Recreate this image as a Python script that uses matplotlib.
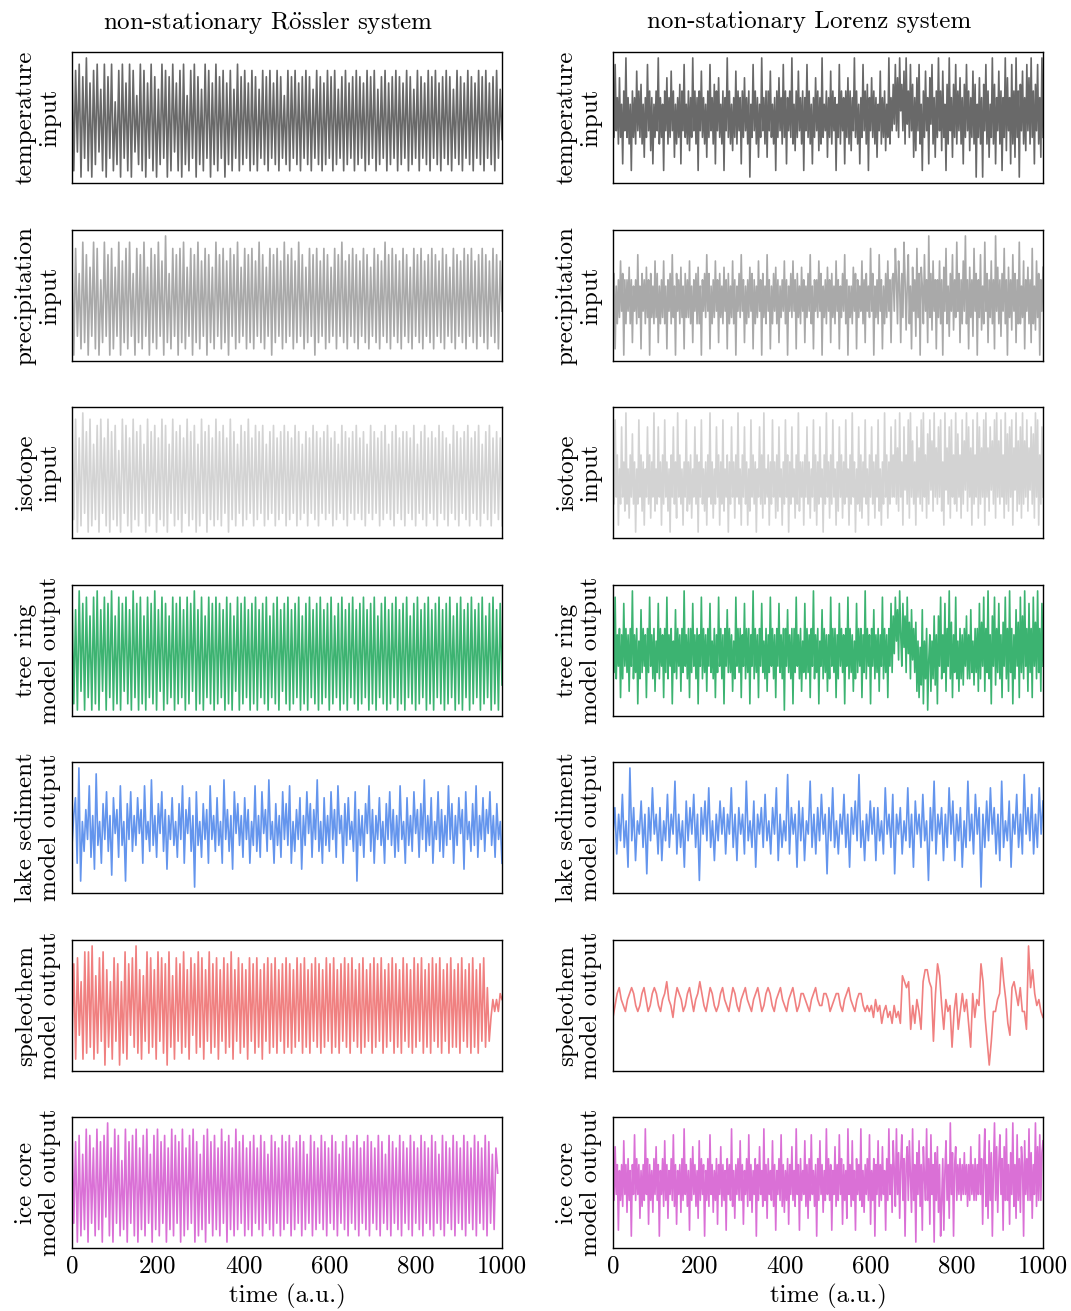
import numpy as np
import matplotlib
matplotlib.use("Agg")
import matplotlib.pyplot as plt

plt.rcParams['font.family'] = ['cmr10', 'DejaVu Serif']
plt.rcParams['mathtext.fontset'] = 'cm'
plt.rcParams['axes.unicode_minus'] = False

col_titles = [r'non-stationary R$\ddot{\mathrm{o}}$ssler system', 'non-stationary Lorenz system']
row_labels = ['temperature\ninput', 'precipitation\ninput', 'isotope\ninput',
              'tree ring\nmodel output', 'lake sediment\nmodel output',
              'speleothem\nmodel output', 'ice core\nmodel output']
row_colors = ['dimgray', 'darkgray', 'lightgray', 'mediumseagreen',
              'cornflowerblue', 'lightcoral', 'orchid']
time_ticks = [0, 200, 400, 600, 800, 1000]

# --- Rössler column (arbitrary units) ---
ross_temp = [
    9, -8, 8, -5, 9, -9, 7, -6, 10, -8, 6, -9, 8, -7, 9, -5, 5, -8, 9, -9,
    7, -6, 9, -8, 3, -7, 8, -9, 9, -6, 6, -8, 9, -9, 8, -5, 4, -7, 9, -8,
    8, -9, 6, -6, 9, -8, 7, -9, 5, -7, 9, -6, 8, -9, 7, -8, 9, -5, 6, -8,
    8, -9, 9, -7, 4, -8, 8, -6, 9, -9, 7, -7, 5, -8, 9, -6, 8, -9, 6, -7,
    9, -8, 7, -6, 8, -9, 6, -7, 8, -8, 5, -6, 9, -8, 7, -7, 8, -6, 6, -8,
    8, -7, 7, -8, 5, -6, 8, -7, 7, -8, 8, -6, 6, -7, 8, -8, 7, -6, 4, -7,
    8, -8, 7, -6, 8, -7, 6, -8, 7, -6, 8, -7, 7, -8, 5, -6, 8, -7, 7, -8,
    6, -7, 8, -6, 7, -8, 8, -7, 5, -6, 7, -8, 8, -7, 6, -6, 7, -8, 8, -7,
    7, -6, 6, -8, 8, -7, 7, -6, 8, -8, 5, -7, 7, -6, 8, -8, 6, -7, 7, -6,
    8, -8, 7, -7, 6, -6, 8, -8, 7, -7, 5, -6, 8, -8, 7, -6, 6, -7, 8, -8,
    7, -6, 8, -7, 6, -8, 7, -6, 8, -7, 7, -8, 5, -6, 8, -7, 7, -8, 6, -6,
    8, -7, 7, -8, 6, -6, 8, -7, 7, -8, 8, -6, 6, -7, 7, -8, 8, -6, 5, -3,
]
ross_precip = [
    6, -9, 8, -6, 4, -8, 9, -7, 7, -9, 5, -6, 9, -8, 8, -9, 3, -7, 9, -6,
    7, -9, 8, -8, 5, -6, 9, -9, 6, -7, 8, -8, 9, -6, 4, -9, 8, -7, 7, -8,
    9, -6, 5, -9, 8, -7, 7, -8, 9, -6, 6, -9, 10, -7, 4, -8, 8, -6, 7, -9,
    8, -7, 9, -8, 5, -6, 8, -9, 7, -7, 9, -8, 6, -6, 8, -9, 7, -7, 5, -8,
    9, -6, 7, -8, 8, -7, 6, -9, 8, -6, 7, -8, 9, -7, 5, -6, 8, -8, 7, -7,
    8, -8, 6, -6, 9, -7, 7, -8, 5, -6, 8, -9, 7, -7, 8, -6, 6, -8, 9, -7,
    7, -6, 8, -8, 6, -7, 9, -6, 7, -8, 5, -7, 8, -6, 7, -9, 8, -7, 6, -6,
    8, -8, 7, -7, 5, -6, 8, -8, 7, -6, 9, -7, 6, -8, 7, -6, 8, -7, 7, -8,
    6, -6, 8, -7, 7, -8, 5, -6, 8, -7, 7, -8, 6, -6, 9, -7, 7, -8, 8, -6,
    7, -7, 6, -8, 8, -6, 7, -7, 5, -8, 8, -6, 7, -7, 8, -8, 6, -6, 7, -7,
    8, -8, 7, -6, 6, -7, 8, -8, 7, -6, 5, -7, 8, -8, 7, -6, 6, -7, 8, -8,
    7, -6, 8, -7, 6, -8, 7, -6, 8, -7, 7, -8, 6, -6, 8, -7, 7, -8, 6, -2,
]
ross_iso = [
    8, -7, 9, -9, 6, -8, 10, -6, 7, -9, 9, -8, 5, -7, 8, -9, 9, -6, 6, -8,
    9, -9, 7, -7, 8, -8, 4, -9, 9, -6, 8, -8, 6, -9, 9, -7, 7, -8, 8, -6,
    5, -9, 9, -8, 7, -6, 8, -9, 6, -7, 9, -8, 8, -9, 5, -6, 9, -8, 7, -7,
    8, -9, 6, -6, 9, -8, 7, -7, 8, -9, 5, -8, 9, -6, 7, -9, 8, -7, 6, -8,
    9, -7, 7, -8, 8, -6, 6, -9, 9, -7, 7, -8, 5, -6, 8, -8, 7, -7, 9, -6,
    6, -8, 8, -7, 7, -6, 8, -8, 5, -7, 7, -6, 8, -8, 6, -7, 7, -6, 8, -8,
    7, -7, 6, -6, 8, -8, 7, -7, 5, -6, 7, -8, 6, -6, 8, -7, 7, -8, 6, -6,
    7, -7, 8, -6, 6, -8, 7, -7, 5, -6, 8, -7, 7, -8, 6, -6, 7, -7, 8, -6,
    6, -7, 7, -8, 5, -6, 8, -7, 7, -6, 6, -8, 7, -7, 8, -6, 5, -7, 7, -8,
    8, -6, 6, -7, 7, -8, 7, -6, 6, -7, 8, -8, 5, -6, 7, -7, 8, -8, 6, -6,
    7, -7, 6, -8, 8, -6, 7, -7, 6, -8, 5, -6, 8, -7, 7, -8, 6, -6, 7, -7,
    8, -8, 6, -6, 7, -7, 8, -8, 5, -6, 7, -7, 8, -8, 6, -6, 7, -7, 6, -8,
]
ross_tree = [
    9, -8, 7, -9, 10, -6, 8, -9, 9, -7, 6, -9, 9, -8, 10, -9, 7, -6, 9, -9,
    8, -7, 10, -9, 6, -8, 9, -9, 8, -6, 9, -8, 7, -9, 10, -7, 8, -9, 9, -8,
    6, -9, 9, -7, 8, -8, 10, -9, 7, -6, 9, -9, 8, -8, 6, -7, 9, -9, 8, -8,
    9, -7, 7, -9, 9, -8, 8, -6, 10, -9, 7, -8, 9, -9, 6, -7, 9, -8, 8, -9,
    9, -8, 8, -7, 7, -9, 9, -8, 8, -9, 6, -6, 9, -9, 8, -8, 9, -7, 7, -9,
    8, -8, 9, -9, 7, -7, 8, -8, 9, -9, 6, -7, 8, -8, 9, -9, 7, -6, 8, -8,
    9, -9, 7, -8, 8, -7, 9, -9, 6, -8, 8, -9, 9, -7, 7, -8, 8, -9, 9, -8,
    7, -7, 8, -9, 9, -8, 6, -7, 8, -9, 9, -8, 7, -9, 8, -7, 9, -8, 7, -9,
    8, -8, 9, -7, 7, -9, 8, -8, 9, -9, 6, -7, 8, -8, 9, -9, 7, -8, 8, -7,
    9, -9, 7, -8, 8, -9, 9, -7, 6, -8, 8, -9, 9, -8, 7, -7, 8, -9, 9, -8,
    7, -9, 8, -7, 9, -8, 7, -9, 8, -8, 9, -7, 6, -9, 8, -8, 9, -9, 7, -7,
    8, -9, 9, -8, 7, -7, 8, -9, 9, -8, 6, -7, 8, -9, 9, -8, 7, -9, 8, -5,
]
ross_lake = [
    -3, 2, 5, -6, 10, -9, 1, -4, 3, -2, 7, -5, 2, -7, 9, -3, 1, -6, 4, -2,
    6, -4, 2, -8, 5, -1, 3, -5, 7, -3, 1, -9, 4, -2, 6, -4, 2, -3, 5, -1,
    3, -6, 7, -2, 1, -4, 8, -3, 2, -5, 4, -1, 6, -4, 3, -7, 2, -2, 5, -3,
    1, -5, 4, -2, 7, -6, 3, -1, 5, -4, 2, -10, 6, -3, 1, -5, 4, -2, 3, -6,
    7, -2, 2, -4, 5, -3, 1, -6, 8, -2, 3, -4, 2, -7, 6, -1, 4, -3, 2, -5,
    5, -2, 3, -6, 1, -3, 7, -4, 2, -5, 6, -1, 3, -4, 8, -2, 1, -6, 4, -3,
    2, -5, 6, -2, 4, -3, 7, -6, 1, -4, 3, -2, 5, -7, 2, -3, 6, -1, 4, -5,
    3, -2, 8, -4, 1, -6, 5, -3, 2, -4, 6, -2, 3, -5, 7, -1, 2, -6, 4, -3,
    5, -2, 1, -4, 6, -9, 3, -3, 2, -5, 4, -1, 7, -4, 3, -6, 2, -2, 5, -3,
    1, -6, 4, -2, 6, -3, 3, -5, 2, -4, 7, -2, 1, -6, 5, -3, 2, -4, 6, -1,
    3, -5, 4, -2, 8, -4, 2, -3, 5, -6, 1, -2, 6, -4, 3, -5, 2, -3, 7, -2,
    4, -6, 2, -3, 5, -1, 3, -7, 6, -2, 1, -4, 4, -3, 7, -5, 2, -2, 5, -4,
    3, -1, 6, -3, 2, -5, 4, -2, 1, -6,
]
ross_speleo = [
    -6, 7, -9, 8, -5, 4, -9, 9, -8, 9, -7, 10, -9, 5, -8, 8, -6, 9, -10, 6,
    -7, 4, -9, 8, -6, 7, -10, 4, -8, 9, -9, 7, -5, 8, -7, 10, -8, 6, -9, 5,
    -6, 9, -8, 8, -7, 6, -9, 9, -6, 8, -8, 7, -10, 9, -7, 5, -9, 8, -6, 7,
    -8, 9, -7, 6, -9, 8, -5, 7, -8, 9, -7, 8, -9, 6, -6, 9, -8, 7, -7, 8,
    -9, 6, -6, 8, -8, 7, -7, 9, -9, 6, -6, 8, -8, 7, -7, 6, -9, 8, -6, 7,
    -8, 8, -7, 6, -9, 7, -6, 8, -8, 7, -7, 8, -8, 6, -6, 7, -8, 8, -7, 7,
    -8, 6, -7, 8, -6, 7, -8, 8, -7, 6, -8, 7, -6, 8, -7, 7, -8, 6, -7, 8,
    -6, 7, -8, 8, -7, 6, -8, 7, -6, 8, -7, 7, -8, 8, -6, 6, -7, 7, -8, 8,
    -7, 6, -6, 7, -8, 8, -7, 7, -6, 8, -8, 6, -7, 7, -6, 8, -8, 7, -7, 6,
    -8, 8, -6, 7, -7, 6, -8, 8, -7, 7, -6, 8, -8, 6, -7, 7, -8, 8, -6, 7,
    -7, 8, -8, 6, -6, 7, -8, 8, -7, 6, -7, 7, -8, 8, -6, 6, -7, 7, -8, 8,
    -7, 6, -8, 7, -6, 8, -7, 3, -6, -2, 1, -1, 1, -1, 2, 1,
]
ross_ice = [
    9, -6, 7, -9, 8, -8, 5, -7, 9, -9, 8, -6, 6, -8, 9, -7, 7, -9, 8, -5,
    10, -8, 6, -9, 9, -6, 8, -8, 4, -7, 9, -9, 7, -6, 8, -8, 9, -9, 6, -7,
    8, -8, 9, -6, 5, -9, 8, -7, 9, -8, 7, -6, 8, -9, 6, -7, 9, -8, 8, -6,
    7, -9, 9, -8, 6, -7, 8, -6, 9, -9, 7, -8, 5, -7, 8, -9, 9, -6, 7, -8,
    8, -7, 6, -8, 9, -6, 7, -9, 8, -7, 6, -8, 9, -7, 7, -6, 8, -8, 6, -7,
    7, -8, 8, -6, 6, -7, 8, -8, 7, -6, 5, -7, 8, -8, 7, -6, 6, -8, 8, -7,
    7, -6, 8, -8, 6, -7, 7, -6, 8, -8, 7, -7, 5, -6, 8, -8, 7, -7, 6, -6,
    8, -7, 7, -8, 6, -6, 8, -7, 7, -8, 5, -6, 7, -7, 8, -8, 6, -6, 7, -7,
    8, -8, 6, -6, 7, -7, 8, -8, 7, -6, 6, -7, 8, -8, 7, -6, 5, -7, 8, -8,
    7, -6, 6, -7, 8, -8, 7, -6, 6, -7, 8, -8, 7, -6, 6, -7, 8, -8, 7, -6,
    6, -7, 8, -8, 7, -6, 5, -7, 8, -8, 7, -6, 6, -7, 8, -8, 7, -6, 6, -7,
    8, -8, 7, -6, 6, -7, 8, -8, 7, -6, 6, -7, 8, -8, 7, -6, 5, -7, 6, 2,
]

# --- Lorenz column ---
lor_temp = [
    4, -3, 8, -2, 3, -4, 6, -3, 2, -7, 4, -2, 9, -3, 3, -4, 2, -8, 4, -3,
    3, -4, 7, -2, 4, -3, 5, -4, 2, -6, 3, -3, 8, -2, 4, -5, 3, -7, 2, -3,
    4, -2, 9, -4, 3, -3, 2, -8, 4, -2, 6, -4, 3, -3, 7, -2, 4, -6, 2, -4,
    3, -3, 5, -7, 4, -2, 8, -3, 2, -4, 4, -5, 3, -3, 9, -2, 4, -4, 3, -8,
    4, -2, 7, -3, 3, -4, 2, -6, 4, -3, 8, -2, 3, -4, 5, -7, 4, -2, 6, -3,
    2, -4, 4, -8, 3, -2, 9, -3, 4, -4, 2, -5, 3, -3, 7, -4, 4, -2, 3, -7,
    4, -3, 6, -2, 3, -4, 4, -9, 2, -3, 8, -2, 4, -4, 3, -6, 2, -3, 9, -2,
    3, -4, 4, -6, 4, -2, 7, -3, 2, -4, 3, -8, 4, -3, 6, -2, 3, -4, 8, -3,
    4, -7, 3, -2, 4, -3, 9, -4, 2, -5, 4, -3, 7, -2, 3, -4, 4, -8, 3, -2,
    8, -3, 4, -4, 2, -7, 3, -3, 6, -2, 4, -5, 3, -4, 9, -3, 2, -2, 4, -6,
    3, -3, 7, -4, 4, -2, 3, -8, 2, -3, 8, -4, 4, -2, 3, -7, 4, -3, 6, -4,
    4, -5, 3, -2, 9, -3, 4, -4, 2, -7, 3, -3, 8, -2, 4, -4, 5, -8, 3, -2,
    6, -3, 4, -4, 3, -6, 2, -2, 7, -4, 3, -3, 4, -5, 2, -3, 9, -4, 3, -2,
    5, -1, 8, -2, 6, -3, 9, 1, 5, -2, 7, -4, 9, -1, 4, -3, 8, -2, 5, -6,
    3, -5, 6, -2, 8, -4, 2, -8, 4, -3, 7, -2, 3, -7, 6, -1, 8, -4, 3, -6,
    4, -3, 9, -2, 4, -5, 7, -3, 2, -8, 5, -4, 9, -2, 3, -6, 5, -3, 8, -4,
    4, -2, 6, -4, 3, -7, 5, -3, 8, -2, 4, -5, 3, -3, 7, -4, 5, -9, 2, -3,
    6, -4, 3, -9, 5, -2, 8, -4, 4, -6, 2, -3, 9, -4, 5, -7, 3, -2, 7, -4,
    4, -8, 3, -3, 9, -5, 6, -2, 3, -7, 8, -4, 4, -6, 9, -3, 4, -9, 5, -2,
    7, -4, 3, -5, 8, -2, 6, -4, 9, -3, 4, -7, 5, -2, 8, -4, 3, -6, 9, -3,
]
lor_precip = [
    -3, 4, -8, 2, -4, 3, -3, 6, -2, 4, -9, 3, -4, 3, -2, 5, -4, 3, -7, 2,
    -2, 3, -4, 7, -3, 2, -8, 4, -2, 3, -4, 5, -3, 3, -9, 4, -3, 2, -4, 6,
    -3, 4, -7, 2, -4, 3, -3, 6, -4, 2, -8, 3, -2, 4, -4, 7, -3, 2, -9, 4,
    -2, 3, -4, 5, -3, 2, -8, 4, -3, 3, -3, 6, -4, 2, -7, 3, -2, 4, -4, 5,
    -4, 2, -9, 3, -2, 4, -3, 7, -2, 4, -8, 2, -4, 3, -3, 6, -2, 3, -7, 4,
    -3, 2, -4, 5, -2, 3, -8, 4, -4, 2, -3, 6, -4, 3, -9, 2, -2, 4, -3, 7,
    -2, 3, -7, 2, -4, 3, -3, 5, -2, 4, -8, 3, -4, 2, -3, 6, -2, 3, -9, 4,
    -3, 2, -4, 7, -2, 3, -8, 2, -4, 4, -2, 5, -4, 3, -7, 2, -3, 3, -2, 6,
    -4, 3, -9, 2, -2, 4, -3, 6, -2, 3, -8, 4, -3, 2, -4, 5, -2, 3, -7, 2,
    -3, 4, -2, 7, -4, 2, -8, 3, -2, 3, -3, 6, -2, 4, -9, 2, -3, 3, -4, 5,
    -2, 3, -7, 4, -3, 2, -4, 6, -2, 3, -8, 2, -3, 4, -2, 7, -4, 3, -9, 2,
    -3, 2, -4, 5, -2, 4, -8, 3, -3, 2, -2, 6, -4, 3, -7, 4, -2, 2, -3, 8,
    -2, 4, -9, 2, -3, 3, -4, 7, -2, 3, -8, 2, -4, 4, -3, 6, -2, 3, -7, 3,
    4, -2, 8, 3, -4, 6, 2, -7, 4, -3, 9, 3, -5, 2, 7, -4, 2, -8, 5, -2,
    3, -6, 8, -3, 4, -9, 5, 2, -4, 7, -2, 3, -7, 10, -3, 4, -5, 6, -2, 3,
    -8, 3, -3, 6, -4, 3, -9, 5, -2, 8, -4, 2, -6, 4, -2, 7, -5, 3, -3, 9,
    -2, 4, -7, 3, -4, 6, -2, 10, -4, 3, -8, 5, -3, 3, -6, 8, -2, 4, -9, 3,
    -3, 7, -5, 2, -4, 9, -2, 4, -7, 3, -3, 6, -4, 3, -8, 10, -2, 5, -4, 3,
    -6, 4, -2, 8, -4, 3, -9, 5, -3, 3, -5, 7, -2, 4, -7, 3, -4, 9, -4, 2,
    -3, 6, -8, 3, -2, 5, -4, 3, -7, 8, -4, 2, -5, 6, -3, 4, -9, 3, -2, 5,
]
lor_iso = [
    3, -3, 9, -2, 4, -6, 2, -3, 8, -2, 3, -4, 10, -3, 2, -5, 4, -2, 7, -3,
    3, -7, 2, -3, 9, -2, 4, -4, 3, -6, 2, -2, 8, -3, 4, -5, 3, -2, 10, -4,
    2, -3, 8, -2, 3, -6, 4, -3, 9, -2, 3, -4, 2, -7, 4, -2, 8, -3, 3, -5,
    10, -2, 4, -3, 2, -6, 3, -2, 9, -4, 3, -3, 4, -5, 2, -2, 8, -3, 4, -7,
    3, -2, 9, -3, 2, -4, 3, -6, 4, -2, 10, -3, 3, -5, 2, -3, 8, -2, 4, -6,
    3, -3, 9, -4, 2, -2, 4, -7, 3, -3, 8, -2, 3, -5, 4, -2, 10, -3, 2, -6,
    4, -2, 8, -3, 3, -6, 2, -4, 9, -2, 4, -3, 3, -7, 2, -2, 8, -3, 4, -5,
    10, -3, 2, -2, 4, -6, 3, -3, 9, -2, 3, -5, 4, -4, 8, -2, 2, -6, 3, -3,
    9, -2, 4, -7, 3, -3, 8, -2, 2, -5, 4, -3, 10, -4, 3, -2, 3, -6, 4, -2,
    8, -3, 3, -5, 2, -2, 9, -4, 4, -6, 3, -3, 8, -2, 2, -7, 4, -3, 10, -2,
    3, -5, 4, -3, 9, -2, 2, -6, 3, -4, 8, -2, 4, -5, 3, -3, 9, -2, 2, -6,
    4, -3, 10, -2, 3, -7, 2, -3, 8, -4, 4, -5, 3, -2, 9, -3, 2, -6, 4, -2,
    8, -3, 3, -5, 4, -2, 9, -4, 2, -6, 3, -3, 10, -2, 4, -5, 3, -3, 8, -2,
    4, -2, 9, -3, 5, -4, 10, -2, 3, -6, 8, -1, 4, -3, 9, -5, 10, -2, 6, -3,
    3, -6, 8, -2, 5, -3, 9, -4, 10, -2, 4, -5, 7, -3, 9, -1, 6, -4, 10, -2,
    5, -3, 8, -2, 9, -4, 3, -6, 10, -1, 5, -3, 8, -5, 9, -2, 4, -3, 10, -4,
    7, -2, 4, -5, 9, -3, 6, -1, 10, -4, 8, -2, 5, -6, 9, -3, 4, -2, 10, -5,
    8, -3, 5, -2, 9, -6, 10, -2, 5, -4, 8, -1, 6, -3, 9, -5, 10, -2, 6, -3,
    9, -2, 4, -5, 10, -3, 7, -4, 8, -2, 9, -6, 5, -1, 10, -4, 6, -3, 8, -5,
    10, -3, 6, -2, 9, -4, 5, -1, 8, -3, 7, -5, 10, -2, 9, -6, 4, -3, 8, -2,
]
lor_tree = [
    4, -3, 9, -4, 3, -2, 4, -7, 3, -4, 8, -2, 4, -3, 3, -6, 4, -2, 10, -4,
    3, -3, 4, -8, 2, -4, 7, -3, 4, -2, 3, -7, 4, -3, 9, -2, 3, -4, 4, -6,
    2, -3, 8, -4, 4, -2, 3, -7, 4, -3, 9, -4, 3, -2, 4, -8, 2, -3, 7, -4,
    4, -2, 3, -6, 4, -3, 10, -2, 3, -4, 4, -7, 4, -3, 8, -2, 3, -4, 4, -8,
    3, -2, 9, -4, 4, -3, 3, -6, 4, -2, 8, -3, 2, -4, 4, -7, 3, -3, 9, -2,
    4, -4, 3, -8, 4, -2, 7, -3, 4, -3, 3, -6, 2, -4, 9, -2, 4, -3, 4, -7,
    3, -2, 8, -4, 4, -3, 4, -8, 3, -2, 10, -4, 4, -3, 3, -7, 4, -2, 8, -3,
    2, -4, 4, -6, 3, -3, 9, -2, 4, -4, 3, -7, 4, -2, 8, -3, 3, -4, 4, -9,
    4, -2, 7, -3, 3, -4, 4, -8, 4, -3, 9, -2, 3, -4, 4, -6, 2, -3, 8, -4,
    4, -3, 3, -7, 4, -2, 10, -4, 3, -3, 4, -8, 2, -2, 7, -4, 4, -3, 3, -6,
    3, -4, 9, -2, 4, -3, 4, -7, 3, -4, 8, -2, 4, -3, 3, -8, 4, -2, 9, -4,
    4, -3, 3, -6, 2, -4, 8, -3, 4, -2, 4, -7, 3, -3, 10, -4, 4, -2, 3, -8,
    4, -2, 7, -4, 3, -3, 4, -6, 3, -2, 9, -4, 4, -3, 3, -7, 4, -2, 8, -3,
    6, 0, 9, 2, 7, -1, 10, 3, -2, 8, 1, 6, -3, 9, 0, 5, -4, 7, -1, 4,
    -3, 5, -6, 2, -7, 1, -5, 7, -8, 2, -4, 4, -9, -1, 3, -6, 2, -4, 6, -5,
    3, -8, 6, -2, 9, -4, 3, -3, 8, -6, 4, -2, 10, -4, 5, -7, 3, -3, 9, -4,
    2, -6, 4, -4, 3, -5, 4, -2, 6, -4, 3, -4, 7, -3, 2, -5, 4, -3, 4, -6,
    8, -4, 5, -2, 9, -6, 4, -3, 10, -4, 3, -8, 6, -2, 9, -5, 4, -3, 8, -4,
    3, -7, 5, -2, 9, -4, 4, -6, 10, -3, 4, -8, 3, -4, 7, -2, 5, -7, 9, -3,
    6, -4, 10, -2, 4, -6, 8, -3, 4, -7, 9, -2, 5, -4, 10, -3, 4, -6, 8, -2,
]
lor_lake = [
    -1, 3, -4, 2, -2, 5, -3, 1, -6, 9, -2, 3, -5, 1, -1, 4, -3, 2, -7, 3,
    -2, 6, -1, 2, -4, 3, -5, 1, -2, 5, -3, 2, -1, 7, -4, 2, -3, 1, -6, 4,
    -2, 3, -1, 5, -3, 2, -8, 3, -1, 4, -2, 6, -3, 1, -5, 2, -2, 4, -1, 3,
    -4, 2, -1, 6, -3, 2, -5, 3, -1, 2, -4, 7, -2, 1, -3, 4, -6, 2, -1, 3,
    -3, 5, -2, 1, -4, 3, -1, 6, -5, 2, -3, 1, -2, 8, -4, 3, -1, 2, -6, 4,
    -2, 3, -5, 1, -1, 7, -3, 2, -4, 3, -2, 5, -1, 2, -7, 3, -2, 6, -3, 1,
    -4, 2, -1, 5, -3, 2, -6, 3, -1, 4, -2, 8, -3, 1, -5, 2, -2, 4, -1, 3,
    -5, 3, -2, 1, -4, 6, -1, 2, -3, 5, -7, 2, -1, 3, -4, 1, -2, 6, -3, 2,
    -6, 4, -1, 2, -3, 5, -2, 1, -8, 3, -2, 7, -4, 2, -1, 3, -5, 2, -3, 6,
    -1, 4, -5, 2, -2, 3, -6, 1, -3, 7, -2, 2, -4, 5, -1, 3, -9, 2, -3, 4,
    -2, 6, -1, 3, -4, 2, -5, 7, -3, 1, -2, 4, -6, 2, -1, 5, -3, 2, -4, 8,
    -1, 3, -2, 5, -4, 2, -3, 6, -1, 4,
]
lor_speleo = [
    -2, 0, 2, 3, 1, 0, -1, 1, 2, 3, 2, 0, -1, 0, 2, 3, 1, -1, 0, 2,
    3, 2, 0, -1, 1, 2, 4, 1, 0, -2, 1, 3, 2, 1, -1, 0, 2, 3, 1, -1,
    1, 2, 4, 2, 0, -1, 1, 3, 2, 0, -1, 0, 2, 3, 1, 0, -1, 1, 3, 2,
    0, -1, 1, 2, 3, 1, 0, -1, 1, 2, 3, 1, -1, 0, 2, 3, 2, 0, -1, 1,
    2, 3, 1, 0, -1, 1, 2, 3, 1, -1, 0, 2, 2, 1, 0, -1, 1, 2, 3, 1,
    0, 0, 2, 2, 1, -1, 0, 1, 2, 2, 0, -1, 1, 2, 3, 1, 0, -1, 1, 2,
    2, 0, -1, 0,
    -1, 0, -2, 1, -1, 0, -3, -1, 0, -2, -1, -3, 0, -2, -1, -3,
    5, 4, 3, 4, -4, 0, -3, 1, -1, -4, 4, 6, 6, 4, 3, -6, 2, 7, 5,
    0, -4, 1, -1, 0, -7, -1, 2, -4, -1, 2, -1, 1, -3, -7, 2, -2, 1, 0, 7,
    4, -2, -6, -10, -6, -1, -1, 1, 2, 8, 4, 1, -3, -5, 3, 4, 2, 0, 3,
    -1, -1, -4, 10, 3, 6, 2, 0, 1, -1, -2,
]
lor_ice = [
    3, -3, 6, -2, 3, -8, 2, -3, 3, -4, 7, -2, 3, -5, 4, -3, 2, -9, 3, -2,
    8, -3, 4, -2, 3, -6, 2, -4, 3, -3, 9, -2, 4, -7, 3, -3, 2, -5, 4, -2,
    6, -3, 3, -9, 2, -2, 4, -4, 7, -3, 3, -6, 2, -2, 4, -3, 8, -4, 3, -7,
    2, -2, 3, -5, 4, -3, 9, -2, 3, -4, 2, -8, 4, -3, 6, -2, 3, -4, 2, -6,
    7, -3, 4, -2, 3, -9, 2, -3, 4, -4, 8, -2, 3, -5, 2, -3, 4, -7, 3, -2,
    6, -4, 3, -3, 2, -8, 4, -2, 3, -3, 9, -4, 2, -6, 3, -2, 4, -3, 7, -3,
    3, -7, 2, -2, 4, -4, 8, -3, 3, -5, 2, -2, 4, -9, 3, -3, 6, -2, 2, -4,
    9, -3, 3, -6, 4, -2, 2, -3, 7, -4, 3, -8, 2, -2, 4, -3, 8, -4, 3, -5,
    2, -3, 4, -7, 3, -2, 6, -3, 2, -4, 9, -2, 3, -8, 4, -3, 2, -2, 7, -4,
    3, -6, 4, -3, 8, -2, 2, -4, 3, -9, 4, -3, 7, -2, 3, -5, 2, -3, 9, -2,
    4, -3, 3, -8, 2, -2, 6, -4, 3, -3, 8, -2, 4, -7, 3, -3, 2, -6, 9, -2,
    3, -4, 7, -3, 2, -8, 4, -2, 3, -3, 9, -4, 2, -5, 3, -2, 4, -3, 8, -7,
    2, -3, 4, -9, 3, -2, 7, -4, 3, -3, 6, -2, 2, -8, 4, -3, 9, -2, 3, -5,
    7, 2, -4, 9, -2, 5, -6, 3, 8, -3, 4, -9, 3, 6, -3, 7, 1, -5, 9, -3,
    3, -10, 5, -2, 7, -4, 3, -8, 6, 1, -3, 9, -3, 4, -7, 8, -2, 3, -10, 5,
    -3, 6, -5, 3, -9, -3, 4, -8, 2, 7, -3, 3, -6, 10, -2, 5, -9, 3, 6, -3,
    3, -2, 4, -3, 3, -2, 5, -2, 3, -4, 3, -3, 6, -2, 3, -3, 4, -3, 3, -2,
    8, -2, 4, -7, 3, 9, -4, 3, -6, 7, -3, 5, -9, 2, 10, -3, 6, -5, 3, 8,
    -2, 4, -8, 6, -3, 9, -3, 3, -7, 5, -2, 10, -4, 3, -6, 8, -3, 4, -5, 6,
    3, -9, 7, -2, 4, -3, 9, -3, 5, -6, 3, -2, 10, -4, 6, -3, 8, -3, 5, 7,
]

rossler_series = [ross_temp, ross_precip, ross_iso, ross_tree, ross_lake, ross_speleo, ross_ice]
rossler_end = [1000, 1000, 1000, 1000, 1000, 1000, 990]
lorenz_series = [lor_temp, lor_precip, lor_iso, lor_tree, lor_lake, lor_speleo, lor_ice]
lorenz_end = [1000, 1000, 1000, 1000, 1000, 1000, 1000]

W, H = 1071, 1311
fig = plt.figure(figsize=(W / 100, H / 100), dpi=100)

col_left = [72, 613]
ax_w, ax_h = 430, 131
row_top = [52, 230, 407, 585, 762, 940, 1117]
fs = 18

columns = [(rossler_series, rossler_end), (lorenz_series, lorenz_end)]
for c, (series, ends) in enumerate(columns):
    x0 = col_left[c]
    fig.text((x0 + ax_w / 2 - 19) / W, 1 - 22 / H, col_titles[c],
             ha='center', va='center', fontsize=fs)
    for r in range(7):
        top = row_top[r]
        ax = fig.add_axes([x0 / W, 1 - (top + ax_h) / H, ax_w / W, ax_h / H])
        vals = np.asarray(series[r], dtype=float)
        t = np.linspace(0, ends[r], len(vals))
        ax.plot(t, vals, color=row_colors[r], lw=1.2)
        ax.set_xlim(0, 1000)
        ax.set_yticks([])
        for sp in ax.spines.values():
            sp.set_linewidth(1.0)
        if r == 6:
            ax.set_xticks(time_ticks)
            ax.tick_params(axis='x', length=0, labelsize=fs, pad=5)
            ax.set_xlabel('time (a.u.)', fontsize=fs, labelpad=5)
        else:
            ax.set_xticks([])
        fig.text((x0 - 34) / W, 1 - (top + ax_h / 2) / H, row_labels[r],
                 rotation=90, ha='center', va='center', fontsize=fs,
                 multialignment='center', linespacing=1.15)

fig.savefig('out.png', dpi=100)
